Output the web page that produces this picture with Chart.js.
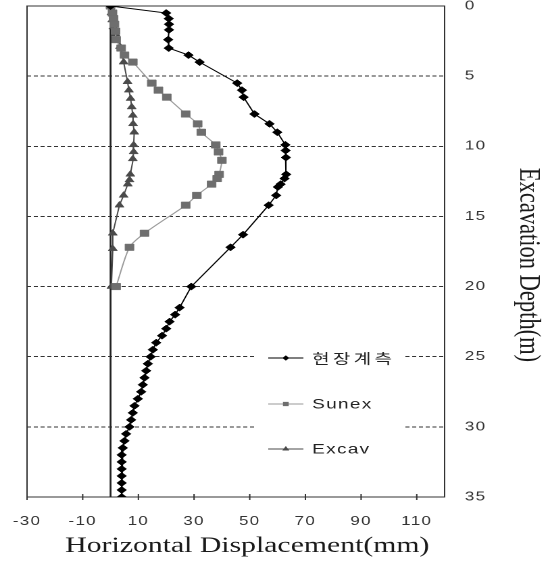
<!DOCTYPE html>
<html>
<head>
<meta charset="utf-8">
<script src="https://cdn.jsdelivr.net/npm/chart.js@4.4.1/dist/chart.umd.min.js"></script>
<style>
html,body{margin:0;padding:0;background:#fff;}
</style>
</head>
<body>
<canvas id="c" width="407" height="562" style="display:block;width:550px;height:562px"></canvas>
<script>
// Axis ticks
const depthTicks = [0, 5, 10, 15, 20, 25, 30, 35];
const dispTicks = [-30, -10, 10, 30, 50, 70, 90, 110];
const seriesNames = ['현장계측', 'Sunex', 'Excav'];

// Field measurement (현장계측): depth (m) and horizontal displacement (mm)
const measuredDepth = [0, 0.5, 0.9, 1.3, 1.7, 2.4, 3.0, 3.5, 4.0, 5.5, 6.0, 6.5, 7.7, 8.4, 9.0, 9.9, 10.3, 10.8, 12.0, 12.3, 12.7, 12.9, 13.5, 14.2, 16.3, 17.2, 20.0,
  21.5, 22.0, 22.5, 23.0, 23.5, 24.0, 24.5, 25.0, 25.5, 26.0, 26.5, 27.0, 27.5, 28.0, 28.5, 29.0, 29.5, 30.0, 30.5, 31.0, 31.5, 32.0, 32.5, 33.0, 33.5, 34.0, 34.5, 35.0];
const measuredDisp = [0, 20.0, 20.9, 21.0, 21.0, 20.7, 20.9, 28.0, 32.0, 45.5, 47.2, 47.8, 51.7, 57.1, 59.9, 62.8, 62.9, 63.0, 63.1, 62.5, 61.1, 60.1, 59.5, 56.8, 47.6, 43.1, 29.0,
  24.8, 23.2, 21.2, 20.0, 18.5, 16.4, 15.2, 14.4, 13.4, 12.8, 12.2, 11.6, 11.0, 9.8, 8.6, 8.0, 7.4, 6.8, 5.6, 5.0, 4.4, 4.0, 4.0, 4.0, 4.0, 4.0, 4.0, 4.0];

// Sunex prediction
const sunexDepth = [0, 0.5, 0.9, 1.3, 1.8, 2.4, 3.0, 3.5, 4.0, 5.5, 6.0, 6.5, 7.7, 8.4, 9.0, 9.9, 10.4, 11.0, 12.0, 12.3, 12.7, 13.5, 14.2, 16.2, 17.2, 20.0];
const sunexDisp = [0, 0.7, 1.1, 1.4, 1.8, 2.0, 3.8, 5.0, 8.0, 14.8, 17.2, 20.2, 27.0, 31.3, 32.6, 37.8, 38.8, 40.0, 39.0, 38.3, 36.3, 31.0, 27.0, 12.2, 6.8, 2.0];

// Excav prediction
const excavDepth = [0, 0.5, 1.0, 1.5, 2.0, 2.9, 4.0, 5.4, 6.0, 6.6, 7.2, 7.8, 8.4, 9.0, 9.9, 10.4, 10.9, 12.0, 12.4, 12.7, 13.5, 14.2, 16.2, 17.3, 20.0];
const excavDisp = [0, 0.3, 0.6, 1.0, 1.8, 3.4, 4.7, 6.1, 6.6, 7.2, 7.6, 8.0, 8.1, 8.5, 8.3, 8.3, 8.0, 7.1, 6.8, 6.2, 4.7, 3.2, 0.8, 0.8, 0.3];

const pairs = (depths, disps) => depths.map((d, i) => ({ x: disps[i], y: d }));

const styles = [
  { line: '#000000', fill: '#000000', shape: 'rectRot', r: 3.6, tension: 0 },
  { line: '#9a9a9a', fill: '#6e6e6e', shape: 'rect', r: 4.6, tension: 0.25 },
  { line: '#4a4a4a', fill: '#4a4a4a', shape: 'triangle', r: 3.9, tension: 0 }
];

function drawMarker(ctx, shape, x, y, r, color) {
  ctx.fillStyle = color;
  ctx.beginPath();
  if (shape === 'rectRot') {
    ctx.moveTo(x, y - r); ctx.lineTo(x + r, y); ctx.lineTo(x, y + r); ctx.lineTo(x - r, y);
  } else if (shape === 'rect') {
    const s = r * Math.SQRT1_2;
    ctx.rect(x - s, y - s, 2 * s, 2 * s);
  } else {
    const w = r * Math.sqrt(3) / 2;
    ctx.moveTo(x, y - r); ctx.lineTo(x + w, y + r / 2); ctx.lineTo(x - w, y + r / 2);
  }
  ctx.closePath();
  ctx.fill();
}

const decorPlugin = {
  id: 'decor',
  beforeDraw(chart) {
    chart.ctx.letterSpacing = '1px';
  },
  beforeDatasetsDraw(chart) {
    const { ctx, chartArea: a, scales: { x } } = chart;
    ctx.save();
    ctx.strokeStyle = '#333';
    ctx.lineWidth = 1;
    ctx.strokeRect(a.left, a.top, a.right - a.left, a.bottom - a.top);
    // zero-displacement reference line
    const x0 = x.getPixelForValue(0);
    ctx.lineWidth = 1.4;
    ctx.strokeStyle = '#222';
    ctx.beginPath(); ctx.moveTo(x0, a.top); ctx.lineTo(x0, a.bottom); ctx.stroke();
    // tick marks along the displacement axis
    ctx.lineWidth = 1;
    ctx.strokeStyle = '#333';
    ctx.beginPath();
    x.ticks.forEach(t => {
      const px = x.getPixelForValue(t.value);
      ctx.moveTo(px, a.bottom - 3); ctx.lineTo(px, a.bottom + 3);
    });
    ctx.stroke();
    ctx.restore();
  },
  afterDraw(chart) {
    const ctx = chart.ctx;
    ctx.save();
    // legend
    ctx.fillStyle = '#fff';
    ctx.fillRect(189, 326, 111, 148);
    const rows = [358, 404, 449];
    seriesNames.forEach((name, i) => {
      const st = styles[i], y = rows[i];
      ctx.strokeStyle = st.line;
      ctx.lineWidth = 1;
      ctx.beginPath(); ctx.moveTo(198.5, y); ctx.lineTo(224.5, y); ctx.stroke();
      drawMarker(ctx, st.shape, 211.5, y, i === 0 ? 2.6 : 3.0, st.fill);
      ctx.fillStyle = '#222';
      ctx.textAlign = 'left';
      ctx.textBaseline = 'middle';
      if (i === 0) {
        ctx.letterSpacing = '2.5px';
        ctx.font = '14px "Noto Sans CJK KR"';
      } else {
        ctx.letterSpacing = '1px';
        ctx.font = '14px "Liberation Sans"';
      }
      ctx.fillText(name, 231, y + 0.5);
    });
    // axis titles
    ctx.letterSpacing = '0px';
    ctx.fillStyle = '#1a1a1a';
    ctx.font = '22px "Liberation Serif"';
    ctx.textAlign = 'center';
    ctx.textBaseline = 'alphabetic';
    ctx.fillText('Horizontal Displacement(mm)', 183, 552);
    // depth title, read top to bottom, glyph box centred on x = 391
    const depthTitle = 'Excavation Depth(m)';
    ctx.font = '22.5px "Liberation Serif"';
    const m = ctx.measureText(depthTitle);
    const shift = (m.actualBoundingBoxAscent - m.actualBoundingBoxDescent) / 2;
    ctx.translate(391 - shift, 265);
    ctx.rotate(Math.PI / 2);
    ctx.textBaseline = 'alphabetic';
    ctx.fillText(depthTitle, 0, 0);
    ctx.restore();
  }
};

new Chart(document.getElementById('c'), {
  type: 'line',
  data: {
    datasets: [
      { label: seriesNames[0], data: pairs(measuredDepth, measuredDisp) },
      { label: seriesNames[1], data: pairs(sunexDepth, sunexDisp) },
      { label: seriesNames[2], data: pairs(excavDepth, excavDisp) }
    ].map((ds, i) => Object.assign(ds, {
      borderColor: styles[i].line,
      borderWidth: 1,
      pointStyle: styles[i].shape,
      pointRadius: styles[i].r,
      pointBackgroundColor: styles[i].fill,
      pointBorderColor: styles[i].fill,
      pointBorderWidth: 0.5,
      tension: styles[i].tension,
      fill: false
    }))
  },
  options: {
    responsive: false,
    devicePixelRatio: 2,
    animation: false,
    events: [],
    layout: { padding: { left: 20, top: 6, right: 0, bottom: 0 } },
    plugins: { legend: { display: false }, tooltip: { enabled: false } },
    scales: {
      x: {
        type: 'linear',
        position: 'bottom',
        min: -30,
        max: 120,
        afterBuildTicks: s => { s.ticks = dispTicks.map(v => ({ value: v })); },
        afterFit: s => { s.height = 65; s.paddingLeft = 0; s.paddingRight = 0; },
        grid: { display: false },
        border: { display: false },
        ticks: {
          autoSkip: false,
          maxRotation: 0,
          padding: 9,
          color: '#333',
          font: { family: 'Liberation Sans', size: 12.5 }
        }
      },
      y: {
        type: 'linear',
        position: 'right',
        reverse: true,
        min: 0,
        max: 35,
        afterBuildTicks: s => { s.ticks = depthTicks.map(v => ({ value: v })); },
        afterFit: s => { s.width = 78; s.paddingTop = 0; s.paddingBottom = 0; },
        grid: {
          drawTicks: false,
          lineWidth: 1,
          color: c => (c.tick && (c.tick.value === 0 || c.tick.value === 35)) ? 'rgba(0,0,0,0)' : '#333'
        },
        border: { display: false, dash: [3, 2] },
        ticks: {
          padding: 15,
          color: '#333',
          font: { family: 'Liberation Sans', size: 12.5 }
        }
      }
    }
  },
  plugins: [decorPlugin]
});
</script>
</body>
</html>
